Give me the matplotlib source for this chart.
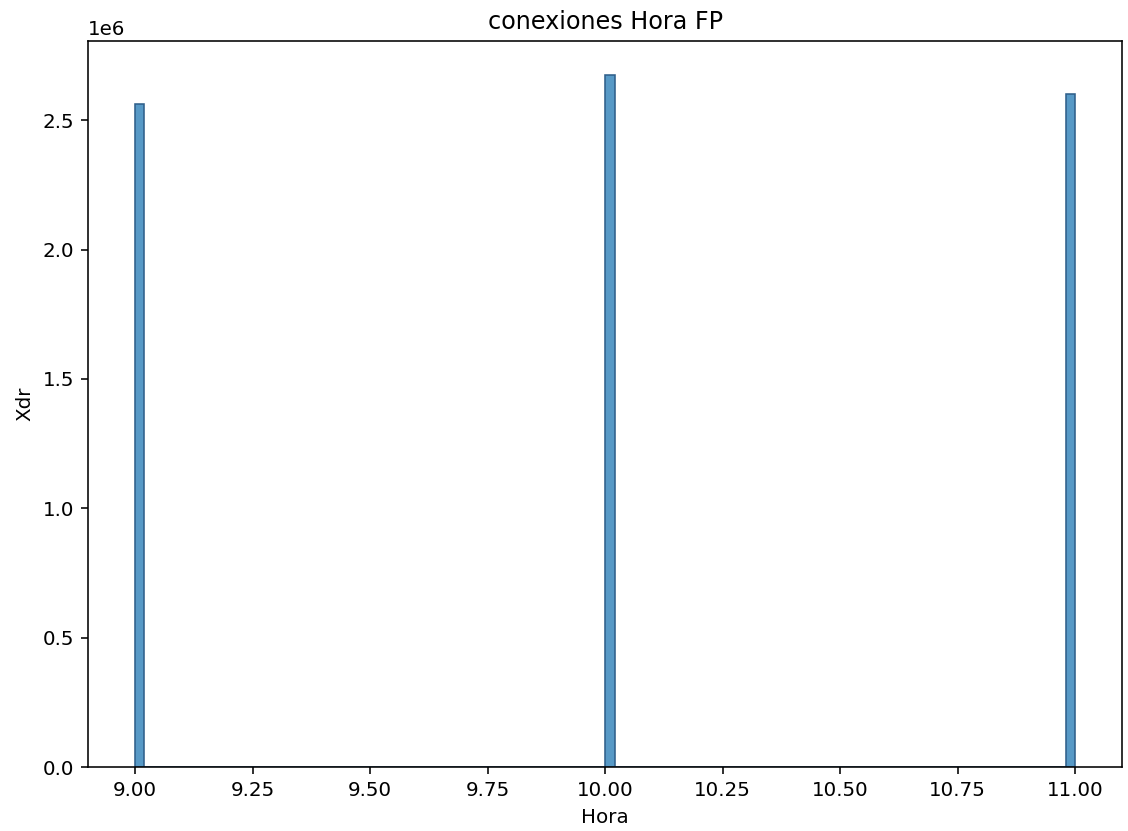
import numpy as np
import matplotlib
matplotlib.use("Agg")
import matplotlib.pyplot as plt
import seaborn as sns

horas = [9, 10, 11]
xdr = [2.562e6, 2.674e6, 2.600e6]

dpi = 143
fig = plt.figure(figsize=(1128 / dpi, 831 / dpi), dpi=dpi)
ax = fig.add_axes([0.078, 0.077, 0.917, 0.874])
sns.histplot(x=horas, weights=xdr, bins=100, binrange=(9, 11), ax=ax,
             edgecolor="#2f5f8a", linewidth=0.8)
ax.set_title("conexiones Hora FP")
ax.set_xlabel("Hora")
ax.set_ylabel("Xdr")
fig.savefig("out.png", dpi=dpi)
